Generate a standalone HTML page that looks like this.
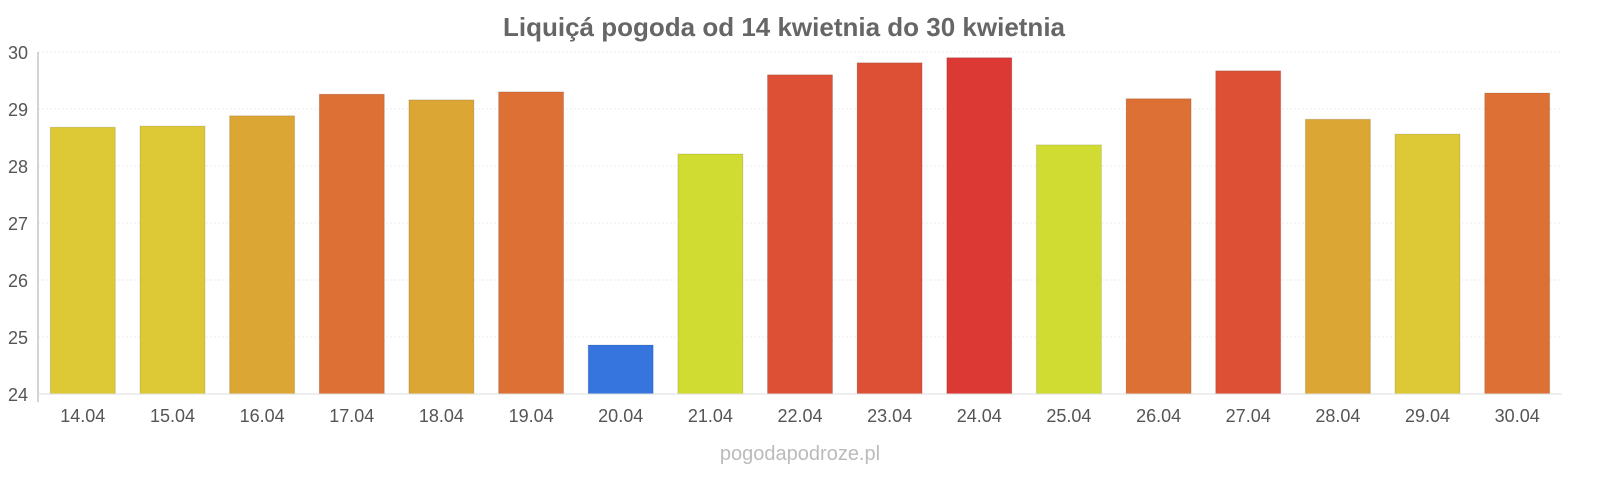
<!DOCTYPE html>
<html><head><meta charset="utf-8"><style>
body{margin:0;background:#fff;width:1600px;height:480px;overflow:hidden;font-family:"Liberation Sans",sans-serif}
</style></head><body>
<svg width="1600" height="480" xmlns="http://www.w3.org/2000/svg" font-family="Liberation Sans, sans-serif">
<text x="784" y="36" text-anchor="middle" font-size="26" font-weight="bold" fill="#666">Liquiçá pogoda od 14 kwietnia do 30 kwietnia</text>
<g stroke="#eee" stroke-dasharray="2,2">
<line x1="38" x2="1562" y1="52" y2="52"/><line x1="38" x2="1562" y1="109" y2="109"/><line x1="38" x2="1562" y1="166" y2="166"/><line x1="38" x2="1562" y1="223" y2="223"/><line x1="38" x2="1562" y1="280" y2="280"/><line x1="38" x2="1562" y1="337" y2="337"/>
</g>
<g font-size="18" fill="#555" text-anchor="end">
<text x="28" y="59">30</text><text x="28" y="116">29</text><text x="28" y="173">28</text><text x="28" y="230">27</text><text x="28" y="287">26</text><text x="28" y="344">25</text><text x="28" y="401">24</text>
</g>
<g stroke="rgba(0,0,0,0.12)">
<rect x="50.3" y="127.2" width="65" height="266.8" fill="#ddc935"/>
<rect x="140.0" y="126.1" width="65" height="267.9" fill="#ddc935"/>
<rect x="229.6" y="115.8" width="65" height="278.2" fill="#dca634"/>
<rect x="319.3" y="94.2" width="65" height="299.8" fill="#dd7035"/>
<rect x="408.9" y="99.9" width="65" height="294.1" fill="#dca634"/>
<rect x="498.6" y="91.9" width="65" height="302.1" fill="#dd7035"/>
<rect x="588.2" y="345.0" width="65" height="49" fill="#3575dd"/>
<rect x="677.9" y="154.0" width="65" height="240" fill="#d0dc32"/>
<rect x="767.5" y="74.8" width="65" height="319.2" fill="#dd5035"/>
<rect x="857.1" y="62.8" width="65" height="331.2" fill="#dd5035"/>
<rect x="946.8" y="57.7" width="65" height="336.3" fill="#dc3834"/>
<rect x="1036.4" y="144.9" width="65" height="249.1" fill="#d0dc32"/>
<rect x="1126.1" y="98.7" width="65" height="295.3" fill="#dd7035"/>
<rect x="1215.7" y="70.8" width="65" height="323.2" fill="#dd5035"/>
<rect x="1305.4" y="119.3" width="65" height="274.7" fill="#dca634"/>
<rect x="1395.0" y="134.1" width="65" height="259.9" fill="#ddc935"/>
<rect x="1484.7" y="93.0" width="65" height="301" fill="#dd7035"/>
</g>
<line x1="38" x2="38" y1="52" y2="402" stroke="#aaa"/>
<line x1="38" x2="1562" y1="394" y2="394" stroke="#ddd"/>
<g font-size="18" fill="#555" text-anchor="middle">
<text x="82.8" y="422">14.04</text><text x="172.5" y="422">15.04</text><text x="262.1" y="422">16.04</text><text x="351.8" y="422">17.04</text><text x="441.4" y="422">18.04</text><text x="531.1" y="422">19.04</text><text x="620.7" y="422">20.04</text><text x="710.4" y="422">21.04</text><text x="800" y="422">22.04</text><text x="889.6" y="422">23.04</text><text x="979.3" y="422">24.04</text><text x="1068.9" y="422">25.04</text><text x="1158.6" y="422">26.04</text><text x="1248.2" y="422">27.04</text><text x="1337.9" y="422">28.04</text><text x="1427.5" y="422">29.04</text><text x="1517.2" y="422">30.04</text>
</g>
<text x="800" y="460" text-anchor="middle" font-size="20" fill="#bbb">pogodapodroze.pl</text>
</svg>
</body></html>
